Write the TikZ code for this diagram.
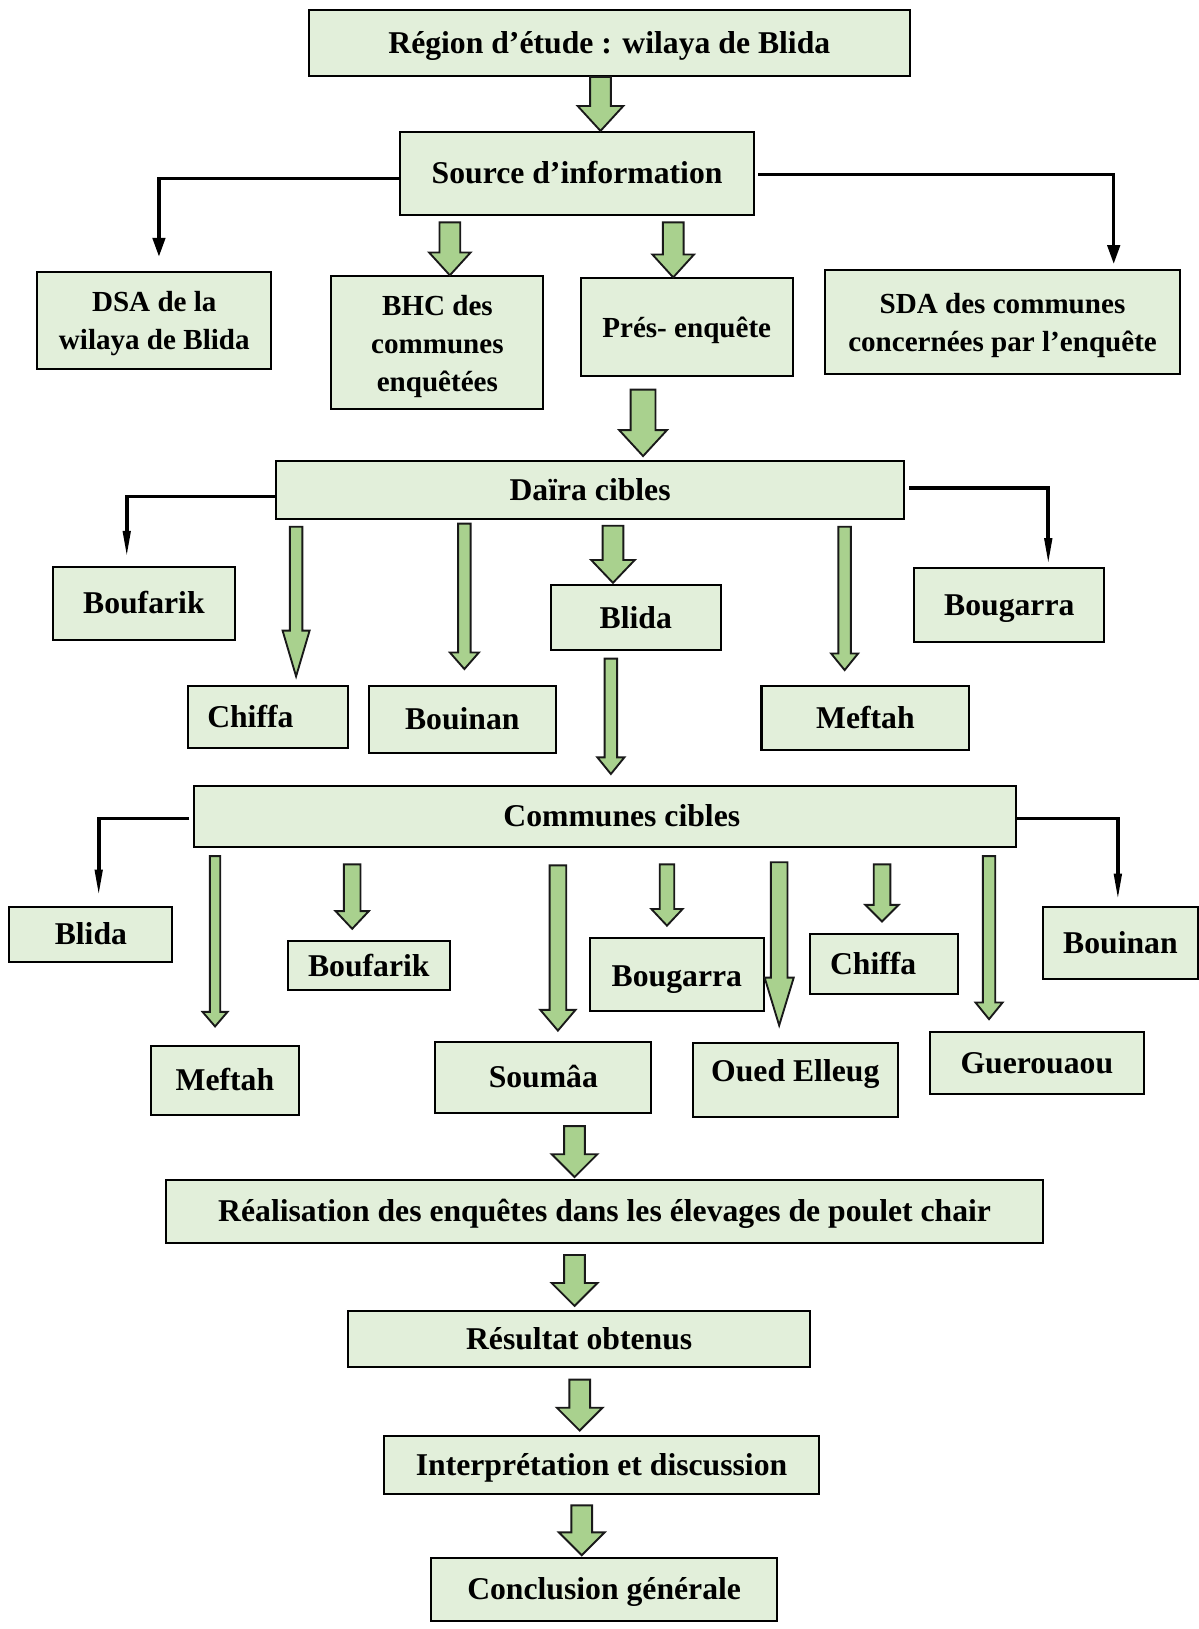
\documentclass[tikz,border=0pt]{standalone}
\usepackage{fontspec}
\setmainfont{Liberation Serif}
\usetikzlibrary{calc,arrows.meta}
\definecolor{boxfill}{HTML}{E2EFDA}
\definecolor{arrfill}{HTML}{A9D18E}
\tikzset{
 basebox/.style={draw=black, line width=2pt, fill=boxfill, inner sep=0pt, align=center},
 box/.style={basebox, font=\fontsize{30.5}{36}\selectfont\bfseries, text height=26pt, text depth=6pt},
 sbox/.style={basebox, font=\fontsize{28}{36.5}\selectfont\bfseries, text height=24pt, text depth=5pt},
 mbox/.style={basebox, font=\fontsize{28}{36.5}\selectfont\bfseries},
 barrowst/.style={draw=black!90, line width=1.8pt, fill=arrfill, line join=miter},
 elbow/.style={draw=black, line width=3pt, -{Triangle[length=18pt,width=12pt]}},
 elbowthin/.style={draw=black, line width=3.5pt, -{Triangle[length=26pt,width=7pt]}},
}
\newcommand\barrow[8]{%
 \path (#1,0 |- #2) ++(0,#3) coordinate (bt);
 \path (#1,0 |- #4) ++(0,-#5) coordinate (bh);
 \draw[barrowst] ($(bt)+(-#6,0)$) -- ($(bh)+(-#6,-#8)$) -- ($(bh)+(-#7,-#8)$) -- (bh) -- ($(bh)+(#7,-#8)$) -- ($(bh)+(#6,-#8)$) -- ($(bt)+(#6,0)$) -- cycle;}
\begin{document}
\begin{tikzpicture}[x=1pt,y=-1pt]
\useasboundingbox (0,0) rectangle (1154,1568);
% level 1
\node[box, minimum width=579pt, minimum height=63pt] (reg) at (586.5,41.5) {Région d’étude : wilaya de Blida};
\node[box, minimum width=341pt, minimum height=80pt] (src) at (555.5,167) {Source d’information};
% sources
\node[mbox, minimum width=225pt, minimum height=93pt] (dsa) at (148.5,308.5) {\rule{0pt}{26pt}DSA de la\\wilaya de Blida};
\node[mbox, minimum width=204pt, minimum height=128pt] (bhc) at (421,330) {\rule{0pt}{27pt}BHC des\\communes\\enquêtées};
\node[sbox, minimum width=204pt, minimum height=94pt] (pres) at (661,315) {Prés- enquête};
\node[mbox, minimum width=342pt, minimum height=100pt] (sda) at (965,310) {\rule{0pt}{26pt}SDA des communes\\concernées par l’enquête};
% daira
\node[box, minimum width=604pt, minimum height=56pt] (daira) at (568,472) {Daïra cibles};
\node[box, minimum width=175pt, minimum height=70pt] (bouf1) at (138.5,581) {Boufarik};
\node[box, minimum width=154pt, minimum height=60pt] (chif1) at (258,690) {Chiffa\rule{34pt}{0pt}};
\node[box, minimum width=180pt, minimum height=65pt] (bouin1) at (445,692.5) {Bouinan};
\node[box, minimum width=164pt, minimum height=63pt] (blida1) at (612,594.5) {Blida};
\node[box, minimum width=200pt, minimum height=62pt] (meft1) at (833,691) {Meftah};
\node[box, minimum width=183pt, minimum height=71pt] (boug1) at (971.5,582.5) {Bougarra};
% communes
\node[box, minimum width=791pt, minimum height=58pt] (comm) at (582.5,786) {\rule{32pt}{0pt}Communes cibles};
\node[box, minimum width=157pt, minimum height=53pt] (blida2) at (87.5,899.5) {Blida};
\node[box, minimum width=143pt, minimum height=66pt] (meft2) at (216.5,1040) {Meftah};
\node[box, minimum width=156pt, minimum height=47pt] (bouf2) at (355,929.5) {Boufarik};
\node[box, minimum width=208pt, minimum height=68pt] (soum) at (523,1037) {Soumâa};
\node[box, minimum width=167pt, minimum height=70pt, text height=28pt, text depth=4pt] (boug2) at (651.5,938) {Bougarra};
\node[box, minimum width=197pt, minimum height=71pt, text height=19pt, text depth=16pt] (oued) at (765.5,1039.5) {Oued Elleug};
\node[box, minimum width=142pt, minimum height=58pt] (chif2) at (851,928) {Chiffa\rule{21pt}{0pt}};
\node[box, minimum width=206pt, minimum height=60pt] (guer) at (998,1023) {Guerouaou};
\node[box, minimum width=150pt, minimum height=69pt] (bouin2) at (1078.5,907.5) {Bouinan};
% bottom
\node[box, minimum width=844pt, minimum height=60pt] (real) at (582,1166) {Réalisation des enquêtes dans les élevages de poulet chair};
\node[box, minimum width=445pt, minimum height=54pt] (res) at (557.5,1289) {Résultat obtenus};
\node[box, minimum width=418pt, minimum height=56pt] (interp) at (579,1410) {Interprétation et discussion};
\node[box, minimum width=333pt, minimum height=60pt] (concl) at (581.5,1530) {Conclusion générale};
% elbow arrows
\draw[elbow] ($(src.west)+(0,5)$) -| ($(153,0 |- dsa.north)+(0,-14)$);
\draw[elbow] ($(src.east)+(3,1)$) -| ($(1072,0 |- sda.north)+(0,-5)$);
\draw[elbowthin] ($(daira.west)+(0,6)$) -| ($(122,0 |- bouf1.north)+(0,-8)$);
\draw[elbowthin] ($(daira.east)+(4,-2)$) -| ($(1009,0 |- boug1.north)+(0,-2)$);
\draw[elbowthin] ($(comm.west)+(-4,2)$) -| ($(95,0 |- blida2.north)+(0,-9)$);
\draw[elbowthin] ($(comm.east)+(0,2)$) -| ($(1076,0 |- bouin2.north)+(0,-5)$);
% block arrows
\barrow{578}{reg.south}{0}{src.north}{0}{10}{22}{24}
\barrow{433}{src.south}{6}{bhc.north}{0}{10}{20}{22}
\barrow{648}{src.south}{6}{pres.north}{0}{10}{20}{22}
\barrow{619}{pres.south}{12}{daira.north}{4}{12}{23}{25}
\barrow{285}{daira.south}{6}{chif1.north}{8}{6}{13}{44}
\barrow{447}{daira.south}{3}{bouin1.north}{15}{6}{14}{16}
\barrow{590}{daira.south}{5}{blida1.north}{1}{10}{21}{22}
\barrow{813}{daira.south}{6}{meft1.north}{14}{6}{13}{16}
\barrow{588}{blida1.south}{7}{comm.north}{11}{6}{13}{16}
\barrow{207}{comm.south}{8}{meft2.north}{18}{5}{12}{14}
\barrow{339}{comm.south}{16}{bouf2.north}{11}{8}{16}{17}
\barrow{537}{comm.south}{17}{soum.north}{10}{8}{17}{20}
\barrow{642}{comm.south}{16}{boug2.north}{11}{7}{15}{16}
\barrow{750}{comm.south}{14}{oued.north}{16}{8}{14}{46}
\barrow{849}{comm.south}{16}{chif2.north}{11}{8}{16}{16}
\barrow{952}{comm.south}{8}{guer.north}{11}{6}{13}{16}
\barrow{553}{soum.south}{12}{real.north}{2}{10}{22}{22}
\barrow{553}{real.south}{11}{res.north}{4}{10}{22}{22}
\barrow{558}{res.south}{11}{interp.north}{4}{10}{22}{22}
\barrow{560}{interp.south}{10}{concl.north}{2}{10}{22}{22}
\end{tikzpicture}
\end{document}
